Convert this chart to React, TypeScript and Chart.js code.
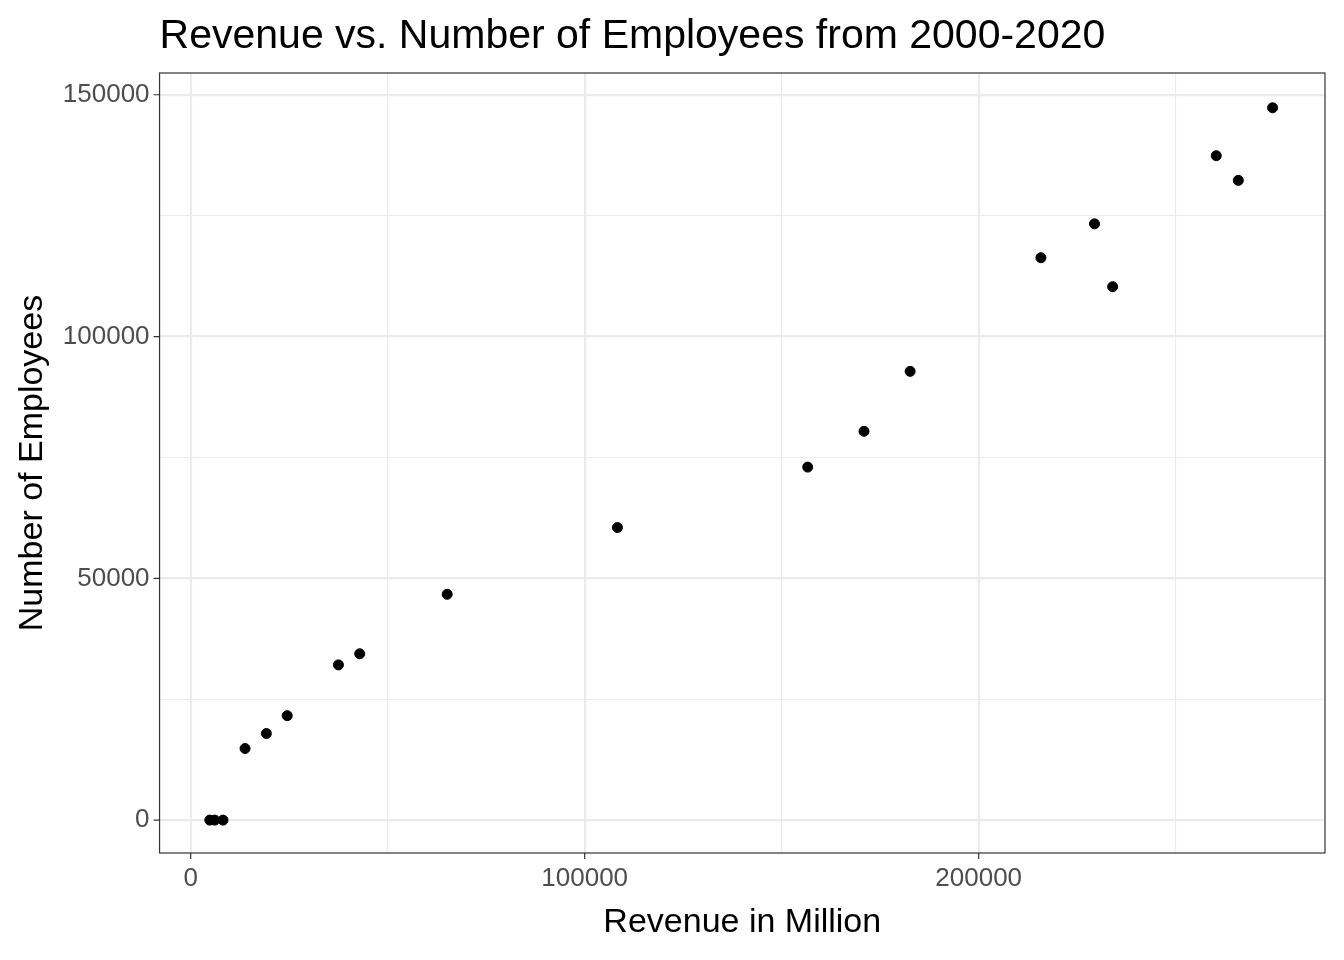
import { useEffect, useRef } from 'react'
import { Chart, registerables } from 'chart.js'

Chart.register(...registerables)

const revenue = [4850, 6100, 8200, 13800, 19200, 24500, 37500, 42900, 65100, 108300, 156600, 170900, 182600, 215800, 229400, 234000, 260300, 265900, 274600]
const employees = [0, 0, 0, 14800, 17900, 21600, 32100, 34400, 46700, 60500, 73000, 80400, 92800, 116300, 123300, 110300, 137400, 132300, 147300]
const xTicks = [0, 50000, 100000, 150000, 200000, 250000]
const yTicks = [0, 25000, 50000, 75000, 100000, 125000, 150000]

const FONT = '"Liberation Sans", Arial, Helvetica, sans-serif'
const TITLE = 'Revenue vs. Number of Employees from 2000-2020'

const isMajor = (v: number) => v % 100000 === 0
const isMajorY = (v: number) => v % 50000 === 0

const panel = {
  id: 'panel',
  afterDraw(chart: Chart) {
    const { ctx, chartArea: a } = chart
    const xs = chart.scales.x
    const ys = chart.scales.y
    ctx.save()
    ctx.strokeStyle = '#333333'
    ctx.lineWidth = 1.2
    ctx.strokeRect(a.left, a.top, a.right - a.left, a.bottom - a.top)
    ctx.beginPath()
    xTicks.filter(isMajor).forEach((v) => {
      const px = xs.getPixelForValue(v)
      ctx.moveTo(px, a.bottom)
      ctx.lineTo(px, a.bottom + 6)
    })
    yTicks.filter(isMajorY).forEach((v) => {
      const py = ys.getPixelForValue(v)
      ctx.moveTo(a.left, py)
      ctx.lineTo(a.left - 6, py)
    })
    ctx.stroke()
    ctx.fillStyle = '#000'
    ctx.font = `41px ${FONT}`
    ctx.textBaseline = 'alphabetic'
    ctx.fillText(TITLE, a.left, 48)
    ctx.restore()
  },
}

export default function App() {
  const canvasRef = useRef<HTMLCanvasElement>(null)

  useEffect(() => {
    document.body.style.margin = '0'
    if (!canvasRef.current) return
    const chart = new Chart(canvasRef.current, {
      type: 'scatter',
      data: {
        datasets: [
          {
            data: revenue.map((x, i) => ({ x, y: employees[i] })),
            backgroundColor: '#000',
            borderColor: '#000',
            pointRadius: 5,
          },
        ],
      },
      options: {
        animation: false,
        responsive: false,
        layout: { padding: { top: 73, right: 19, left: 8, bottom: 13 } },
        plugins: { legend: { display: false }, tooltip: { enabled: false } },
        scales: {
          x: {
            min: -7900,
            max: 287900,
            afterBuildTicks: (s) => {
              s.ticks = xTicks.map((value) => ({ value }))
            },
            ticks: {
              color: '#4d4d4d',
              font: { family: FONT, size: 26 },
              padding: 4,
              maxRotation: 0,
              callback: (v) => (isMajor(Number(v)) ? String(v) : ''),
            },
            grid: {
              color: '#ebebeb',
              lineWidth: (c) => (isMajor(c.tick.value) ? 2.2 : 1.1),
              tickLength: 6,
              tickColor: 'rgba(0,0,0,0)',
            },
            border: { display: false },
            title: { display: true, text: 'Revenue in Million', color: '#000', font: { family: FONT, size: 34 }, padding: { top: 4 } },
          },
          y: {
            min: -6800,
            max: 154500,
            afterBuildTicks: (s) => {
              s.ticks = yTicks.map((value) => ({ value }))
            },
            ticks: {
              color: '#4d4d4d',
              font: { family: FONT, size: 26 },
              padding: 4,
              callback: (v) => (isMajorY(Number(v)) ? String(v) : ''),
            },
            grid: {
              color: '#ebebeb',
              lineWidth: (c) => (isMajorY(c.tick.value) ? 2.2 : 1.1),
              tickLength: 6,
              tickColor: 'rgba(0,0,0,0)',
            },
            border: { display: false },
            title: { display: true, text: 'Number of Employees', color: '#000', font: { family: FONT, size: 34 }, padding: { bottom: 6 } },
          },
        },
      },
      plugins: [panel],
    })
    return () => chart.destroy()
  }, [])

  return (
    <div style={{ width: 1344, height: 960, background: '#fff' }}>
      <canvas ref={canvasRef} width={1344} height={960} />
    </div>
  )
}
